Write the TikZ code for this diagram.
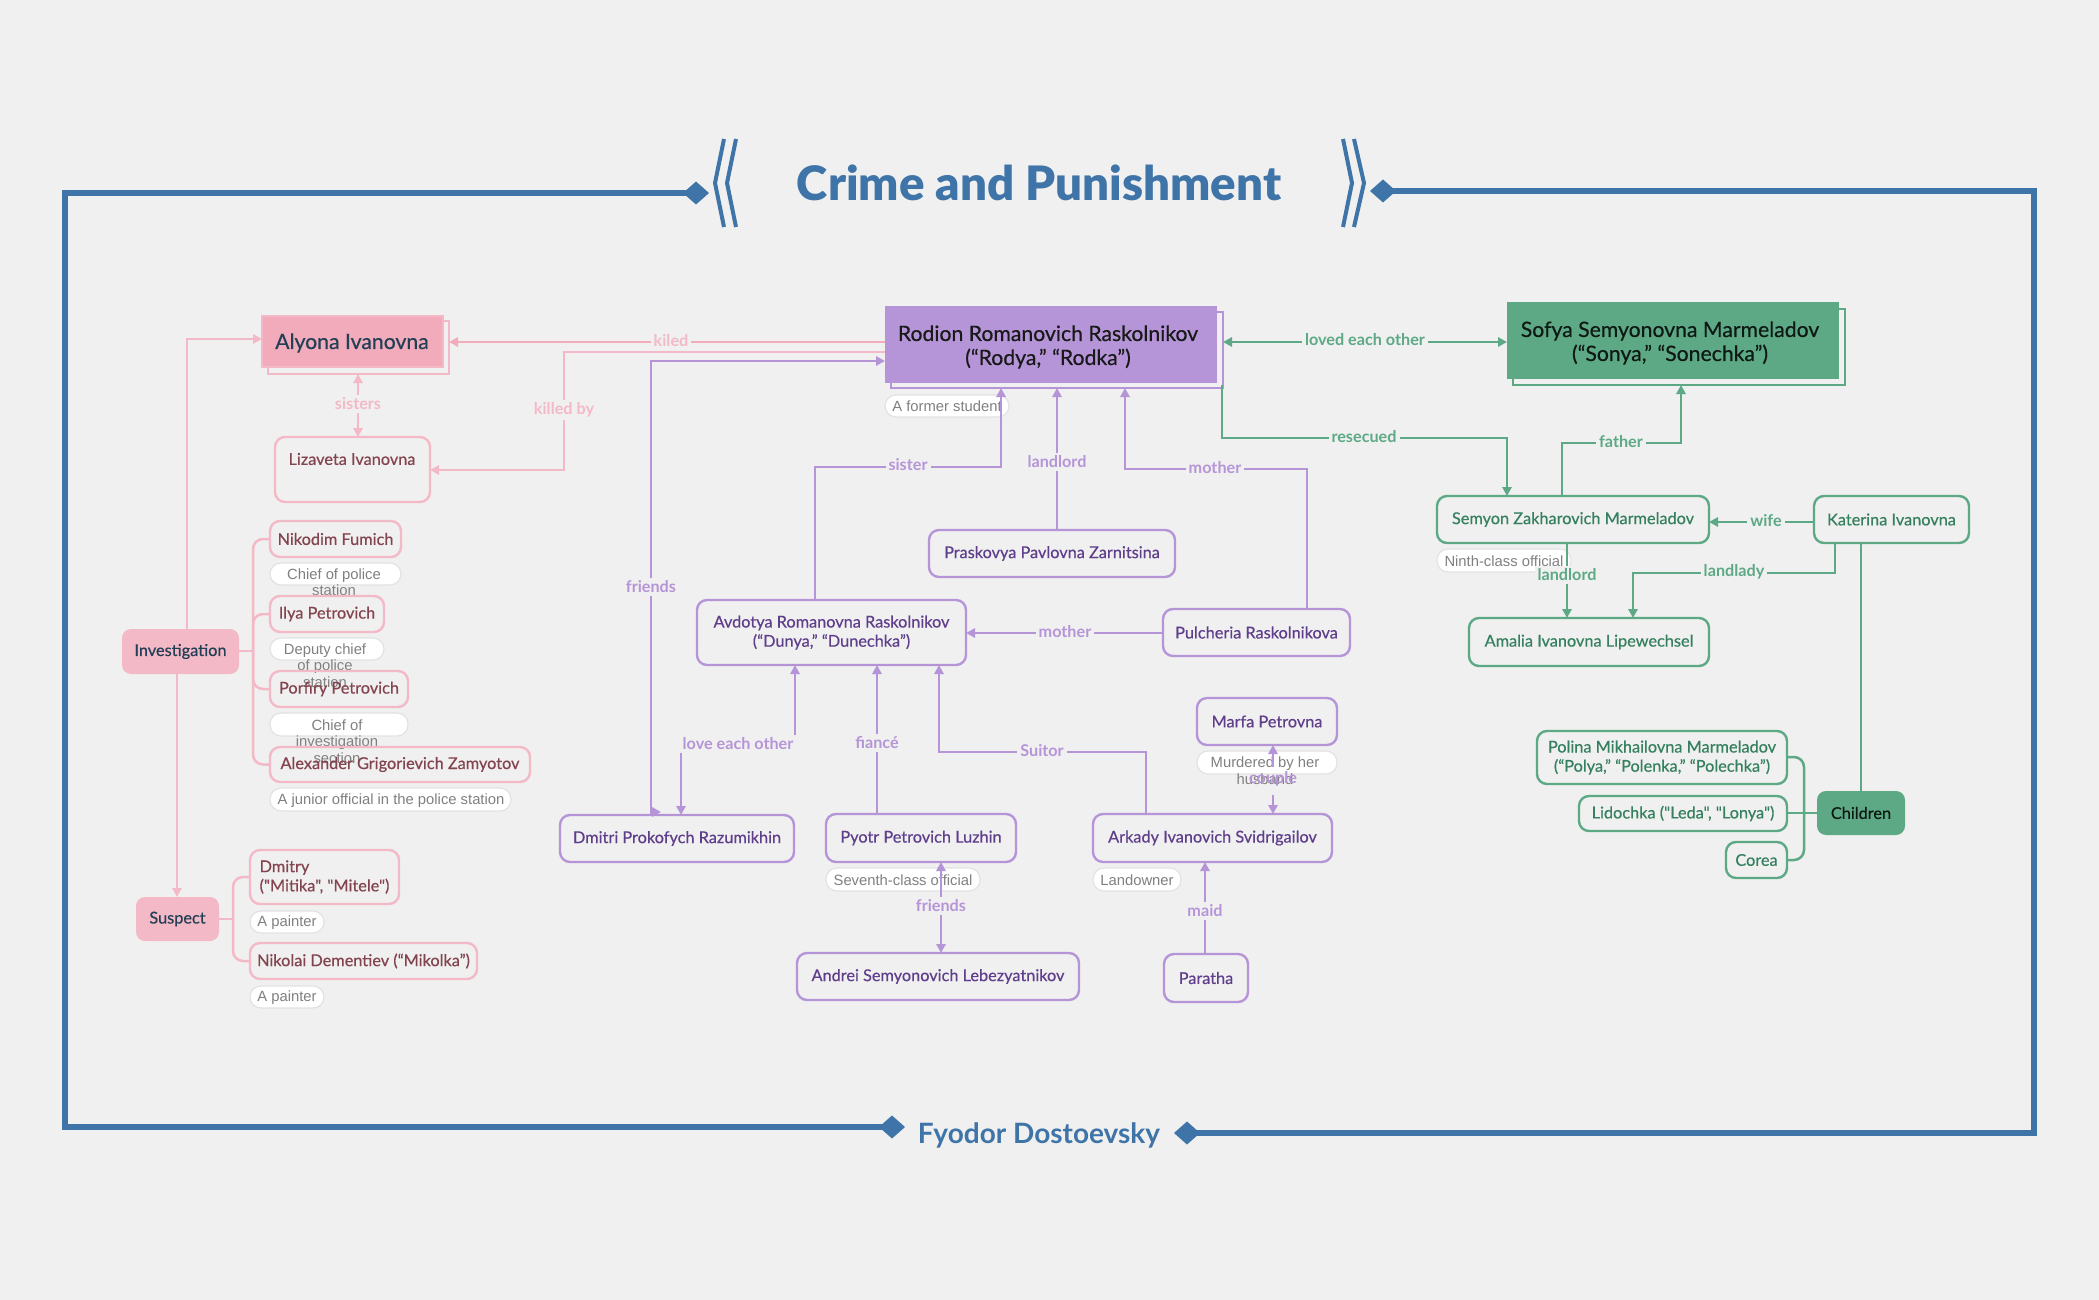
\documentclass[tikz,border=0pt]{standalone}
\usepackage{fontspec}
\usetikzlibrary{arrows.meta,calc}
\setmainfont{Lato}
\newfontfamily\namefont[FakeBold=0.45]{Lato}
\newfontfamily\labfont{Lato Bold}
\newfontfamily\notefont{Liberation Sans}
\newfontfamily\titlefont{Lato Black}
\definecolor{bg}{HTML}{F0F0F0}
\definecolor{pk}{HTML}{F4B9C6}
\definecolor{pkd}{HTML}{F1ABBB}
\definecolor{pkt}{HTML}{84444F}
\definecolor{pu}{HTML}{B595D8}
\definecolor{put}{HTML}{5F3E8C}
\definecolor{gr}{HTML}{5DA985}
\definecolor{grt}{HTML}{35805F}
\definecolor{dk}{HTML}{233F55}
\definecolor{fr}{HTML}{3E74A8}
\definecolor{nt}{HTML}{808080}
\definecolor{nb}{HTML}{E2E2E2}
\newcommand\bx[7]{\node[#1,minimum width={(#5-#3)*0.5pt},minimum height={(#6-#4)*0.5pt}] (#2) at ({(#3+#5)/2},{(#4+#6)/2}) {#7};}
\tikzset{
  x=0.5pt,y=-0.5pt,
  base/.style={inner sep=0pt,outer sep=0pt,align=center},
  sub/.style={base,rounded corners=5pt,line width=1.2pt,font=\namefont\fontsize{8.15}{9.6}\selectfont},
  pksub/.style={sub,draw=pk,text=pkt},
  pusub/.style={sub,draw=pu,text=put},
  grsub/.style={sub,draw=gr,text=grt},
  cat/.style={base,rounded corners=4.5pt,font=\namefont\fontsize{8.15}{9.6}\selectfont},
  mainbox/.style={base},
  maintx/.style={base,font=\namefont\fontsize{10.6}{12}\selectfont},
  outl/.style={base,line width=1pt},
  notebox/.style={base,rounded corners=5.5pt,fill=white,draw=nb,line width=.6pt},
  notetx/.style={base,text=nt,font=\notefont\fontsize{7.4}{8.25}\selectfont},
  con/.style={line width=1.25pt,line join=miter},
  arr/.style={-{Triangle[length=4.5pt,width=4.6pt]}},
  arrb/.style={{Triangle[length=4.5pt,width=4.6pt]}-{Triangle[length=4.5pt,width=4.6pt]}},
  lab/.style={base,fill=bg,inner xsep=1.5pt,inner ysep=1.5pt,font=\labfont\fontsize{8.1}{9}\selectfont},
  frameline/.style={draw=fr,line width=2.8pt,line join=miter,{Diamond[length=13pt,width=11.5pt]}-{Diamond[length=13pt,width=11.5pt]}},
  bracket/.style={draw=fr,line width=2pt,line join=miter}
}
\begin{document}
\begin{tikzpicture}
\path[use as bounding box,fill=bg] (0,0) rectangle (2099,1300);
% title and frame
\node[base,text=fr,font=\titlefont\fontsize{23.7}{26}\selectfont] (title) at (1039,183) {Crime and Punishment};
\node[base,text=fr,font=\labfont\fontsize{14}{16}\selectfont] (author) at (1039,1135) {Fyodor Dostoevsky};
\coordinate (tl) at (709,193); \coordinate (tr) at (1370,191);
\coordinate (bl) at (905,1127); \coordinate (br) at (1174,1133);
\coordinate (fl) at (65,193); \coordinate (flb) at (65,1127);
\coordinate (fr1) at (2034,191); \coordinate (fr2) at (2034,1133);
\draw[frameline] (bl) -- (flb) -- (fl) -- (tl);
\draw[frameline] (br) -- (fr2) -- (fr1) -- (tr);
\draw[bracket] (724,139) -- (715,183) -- (724,227);
\draw[bracket] (736,139) -- (727,183) -- (736,227);
\draw[bracket] (1343,139) -- (1352,183) -- (1343,227);
\draw[bracket] (1354,139) -- (1364,183) -- (1354,227);

% notes
\bx{notebox}{nFormer}{885}{395}{1009}{417}{}
\node[notetx] (tFormer) at (947,406) {A former student};
\bx{notebox}{nNik}{270}{563}{401}{585}{}
\node[notetx,anchor=north] (tNik) at (334,568.5) {Chief of police\\station};
\bx{notebox}{nIlya}{270}{638}{384}{660}{}
\node[notetx,anchor=north] (tIlya) at (325,643.5) {Deputy chief\\of police\\station};
\bx{notebox}{nPor}{270}{713}{408}{736}{}
\node[notetx,anchor=north] (tPor) at (337,719.5) {Chief of\\investigation\\section};
\bx{notebox}{nAle}{270}{788}{511}{811}{}
\node[notetx] (tAle) at (391,801) {A junior official in the police station};
\bx{notebox}{nDmi}{250}{911}{324}{933}{}
\node[notetx] (tDmi) at (287,923) {A painter};
\bx{notebox}{nNikoD}{250}{986}{324}{1008}{}
\node[notetx] (tNikoD) at (287,998) {A painter};
\bx{notebox}{nSev}{826}{868}{980}{891}{}
\node[notetx] (tSev) at (903,880) {Seventh-class official};
\bx{notebox}{nLand}{1093}{868}{1181}{891}{}
\node[notetx] (tLand) at (1137,880) {Landowner};
\bx{notebox}{nMarfa}{1197}{751}{1337}{774}{}
\node[notetx,anchor=north] (tMarfa) at (1265,757) {Murdered by her\\husband};
\bx{notebox}{nNinth}{1437}{549}{1571}{572}{}
\node[notetx] (tNinth) at (1504,561) {Ninth-class official};

% main outlines and boxes
\bx{outl,draw=pk}{alyO}{268}{321}{449}{374}{}
\bx{mainbox,fill=pkd,draw=pk,line width=.8pt}{aly}{262}{316}{443}{367}{}
\node[maintx,text=dk] (tAly) at (352,343) {Alyona Ivanovna};
\bx{outl,draw=pu}{rodO}{891}{312}{1223}{388}{}
\bx{mainbox,fill=pu}{rod}{885}{306}{1217}{383}{}
\node[maintx,text=black!90] (tRod) at (1048,347) {Rodion Romanovich Raskolnikov\\(“Rodya,” “Rodka”)};
\bx{outl,draw=gr}{sofO}{1513}{309}{1845}{385}{}
\bx{mainbox,fill=gr}{sof}{1507}{302}{1839}{379}{}
\node[maintx,text=black!85!gr] (tSof) at (1670,343) {Sofya Semyonovna Marmeladov\\(“Sonya,” “Sonechka”)};

% pink boxes
\bx{pksub}{liz}{275}{437}{430}{502}{}
\node[base,text=pkt,font=\namefont\fontsize{8.15}{9.6}\selectfont] (tLiz) at (352,459) {Lizaveta Ivanovna};
\bx{pksub}{nik}{270}{521}{401}{557}{Nikodim Fumich}
\bx{pksub}{ily}{270}{596}{384}{632}{Ilya Petrovich}
\bx{pksub}{por}{270}{671}{408}{707}{Porfiry Petrovich}
\bx{pksub}{ale}{270}{747}{530}{782}{Alexander Grigorievich Zamyotov}
\bx{pksub,align=left}{dmi}{250}{850}{399}{904}{Dmitry\\("Mitika", "Mitele")}
\bx{pksub}{nko}{250}{943}{477}{979}{Nikolai Dementiev (“Mikolka”)}
\bx{cat,fill=pk,text=dk}{inv}{122}{629}{239}{674}{Investigation}
\bx{cat,fill=pk,text=dk}{sus}{136}{897}{219}{941}{Suspect}

% purple boxes
\bx{pusub}{pra}{929}{530}{1175}{577}{Praskovya Pavlovna Zarnitsina}
\bx{pusub}{avd}{697}{600}{966}{665}{Avdotya Romanovna Raskolnikov\\(“Dunya,” “Dunechka”)}
\bx{pusub}{pul}{1163}{609}{1350}{656}{Pulcheria Raskolnikova}
\bx{pusub}{raz}{560}{815}{794}{862}{Dmitri Prokofych Razumikhin}
\bx{pusub}{pyo}{826}{814}{1016}{862}{Pyotr Petrovich Luzhin}
\bx{pusub}{ark}{1093}{814}{1332}{862}{Arkady Ivanovich Svidrigailov}
\bx{pusub}{mar}{1197}{698}{1337}{745}{Marfa Petrovna}
\bx{pusub}{and}{797}{953}{1079}{1000}{Andrei Semyonovich Lebezyatnikov}
\bx{pusub}{par}{1164}{954}{1248}{1002}{Paratha}

% green boxes
\bx{grsub}{sem}{1437}{496}{1709}{543}{Semyon Zakharovich Marmeladov}
\bx{grsub}{kat}{1814}{496}{1969}{543}{Katerina Ivanovna}
\bx{grsub}{ama}{1469}{618}{1709}{666}{Amalia Ivanovna Lipewechsel}
\bx{grsub}{pol}{1537}{731}{1787}{784}{Polina Mikhailovna Marmeladov\\(“Polya,” “Polenka,” “Polechka”)}
\bx{grsub}{lid}{1579}{796}{1787}{831}{Lidochka ("Leda", "Lonya")}
\bx{grsub}{cor}{1726}{842}{1787}{878}{Corea}
\bx{cat,fill=gr,text=black!85!gr}{chi}{1817}{791}{1905}{835}{Children}

% pink connectors
\coordinate (bI) at (253,651);
\coordinate (bS) at (233,919);
\draw[con,draw=pk,rounded corners=5pt] (nik.west) -| (bI) |- (ale.west);
\draw[con,draw=pk,rounded corners=5pt] (ily.west) -| (bI);
\draw[con,draw=pk,rounded corners=5pt] (por.west) -| (bI);
\draw[con,draw=pk] (inv.east |- bI) -- (bI);
\draw[con,draw=pk,rounded corners=5pt] (dmi.west |- 0,877) -| (bS) |- (nko.west);
\draw[con,draw=pk] (sus.east |- bS) -- (bS);
\draw[con,draw=pk,arr] (inv.north -| 187,0) |- (aly.west |- 0,339);
\draw[con,draw=pk,arr] (inv.south -| 177,0) -- (sus.north -| 177,0);
\draw[con,draw=pkd,arr] (rod.west |- 0,342) -- (alyO.east |- 0,342);
\node[lab,text=pk] (lKiled) at (671,341) {kiled};
\draw[con,draw=pk,arr] (rod.west |- 0,352) -| (564,410) |- (liz.east |- 0,470);
\node[lab,text=pk] (lKilledBy) at (564,410) {killed by};
\draw[con,draw=pk,arrb] (alyO.south -| 358,0) -- (liz.north -| 358,0);
\node[lab,text=pk] (lSisters) at (358,404) {sisters};

% purple connectors
\draw[con,draw=pu,arr] (raz.north -| 651,0) -- (651,361) -- (rod.west |- 0,361);
\draw[con,draw=pu,arr] (651,800) -- (651,812) -- (661,812);
\node[lab,text=pu] (lFriends) at (651,587) {friends};
\draw[con,draw=pu,arr] (avd.north -| 815,0) |- (1001,467) -- (rodO.south -| 1001,0);
\node[lab,text=pu] (lSister) at (908,465) {sister};
\draw[con,draw=pu,arr] (pra.north -| 1057,0) -- (rodO.south -| 1057,0);
\node[lab,text=pu] (lLandlord) at (1057,462) {landlord};
\draw[con,draw=pu,arr] (pul.north -| 1307,0) |- (1125,469) -- (rodO.south -| 1125,0);
\node[lab,text=pu] (lMother) at (1215,468) {mother};
\draw[con,draw=pu,arr] (pul.west |- 0,633) -- (avd.east |- 0,633);
\node[lab,text=pu] (lMother2) at (1065,632) {mother};
\draw[con,draw=pu,arrb] (avd.south -| 795,0) |- (681,744) -- (raz.north -| 681,0);
\node[lab,text=pu] (lLove) at (738,744) {love each other};
\draw[con,draw=pu,arr] (pyo.north -| 877,0) -- (avd.south -| 877,0);
\node[lab,text=pu] (lFiance) at (877,743) {fiancé};
\draw[con,draw=pu,arr] (ark.north -| 1146,0) |- (939,752) -- (avd.south -| 939,0);
\node[lab,text=pu] (lSuitor) at (1042,751) {Suitor};
\draw[con,draw=pu,arrb] (pyo.south -| 941,0) -- (and.north -| 941,0);
\node[lab,text=pu] (lFriends2) at (941,906) {friends};
\draw[con,draw=pu,arr] (par.north -| 1205,0) -- (ark.south -| 1205,0);
\node[lab,text=pu] (lMaid) at (1205,911) {maid};
\coordinate (cplA) at (1273,767); \coordinate (cplB) at (1273,795);
\draw[con,draw=pu,arr] (cplA) -- (mar.south -| 1273,0);
\draw[con,draw=pu,arr] (cplB) -- (ark.north -| 1273,0);
\node[base,text=pu,font=\labfont\fontsize{8.1}{9}\selectfont] (lCouple) at (1273,779) {couple};

% green connectors
\draw[con,draw=gr,arrb] (rodO.east |- 0,342) -- (sof.west |- 0,342);
\node[lab,text=gr] (lLoved) at (1365,340) {loved each other};
\draw[con,draw=gr,arr] (1222,385) |- (1507,438) -- (sem.north -| 1507,0);
\node[lab,text=gr] (lRes) at (1364,437) {resecued};
\draw[con,draw=gr,arr] (sem.north -| 1562,0) |- (1681,443) -- (sofO.south -| 1681,0);
\node[lab,text=gr] (lFather) at (1621,442) {father};
\draw[con,draw=gr,arr] (kat.west |- 0,522) -- (sem.east |- 0,522);
\node[lab,text=gr] (lWife) at (1766,521) {wife};
\draw[con,draw=gr,arr] (sem.south -| 1567,0) -- (ama.north -| 1567,0);
\node[lab,text=gr] (lLandlord2) at (1567,575) {landlord};
\draw[con,draw=gr,arr] (kat.south -| 1835,0) |- (1633,573) -- (ama.north -| 1633,0);
\node[lab,text=gr] (lLandlady) at (1734,572) {landlady};
\draw[con,draw=gr] (kat.south -| 1861,0) -- (chi.north -| 1861,0);
\coordinate (bC) at (1804,813);
\draw[con,draw=gr,rounded corners=5pt] (pol.east |- 0,757) -| (bC) |- (cor.east);
\draw[con,draw=gr] (chi.west |- bC) -- (lid.east |- bC);
\end{tikzpicture}
\end{document}
